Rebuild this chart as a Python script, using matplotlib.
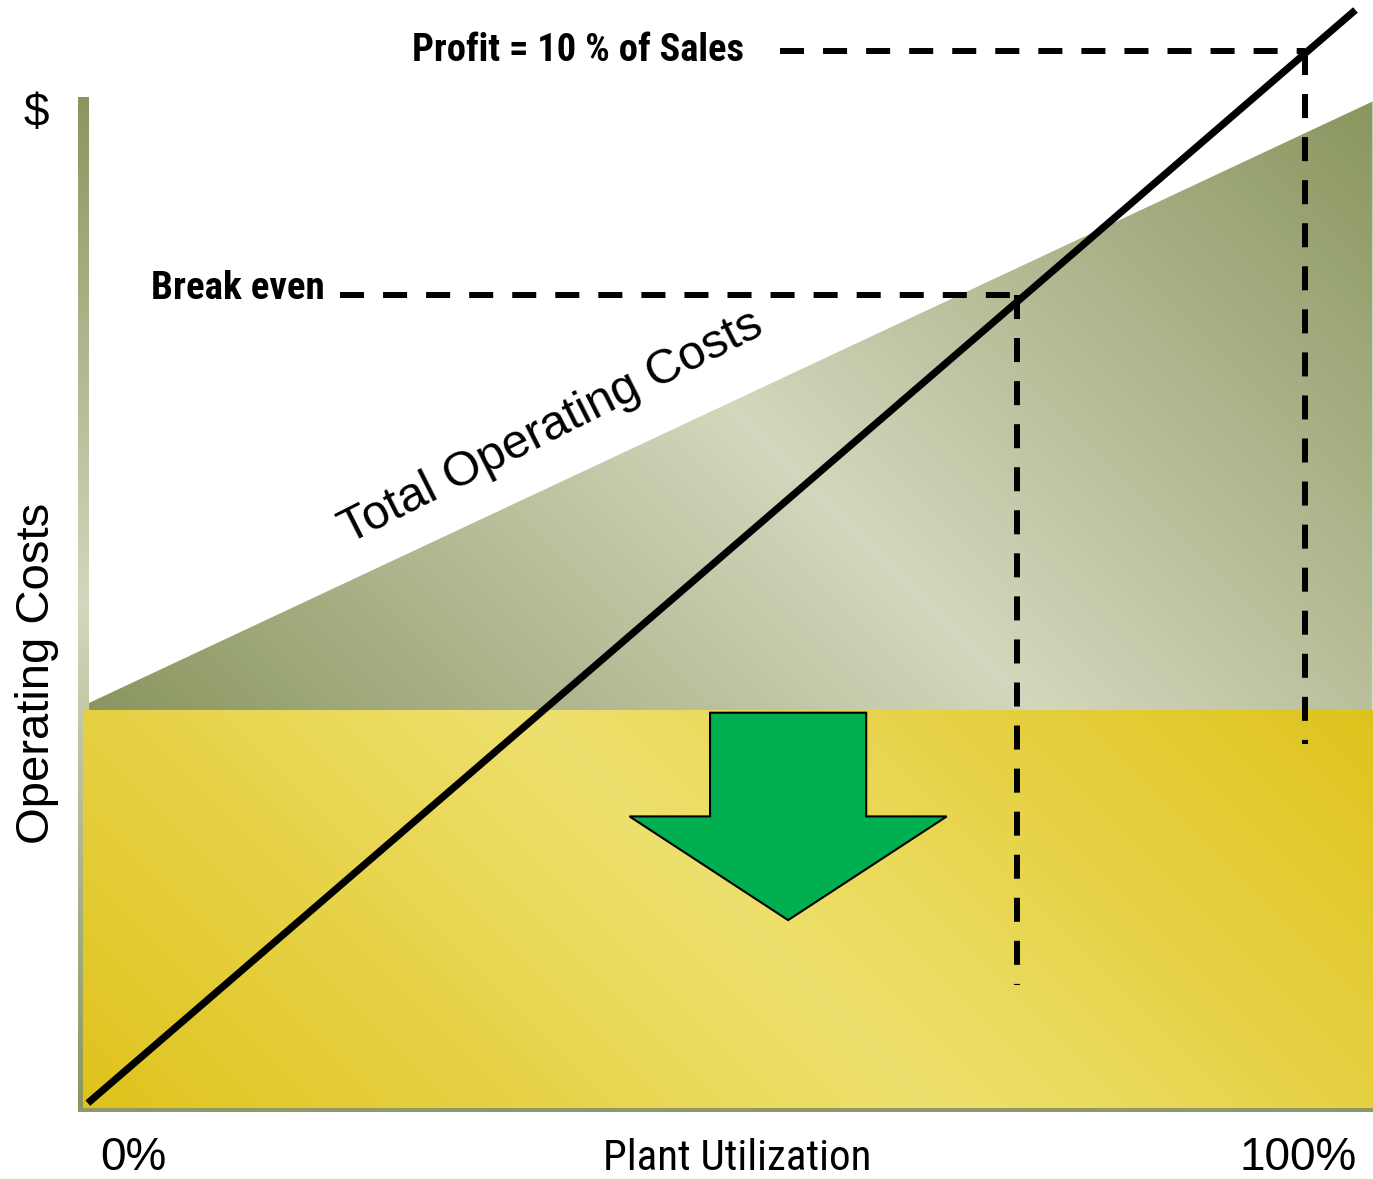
import numpy as np
import matplotlib
matplotlib.use('Agg')
import matplotlib.pyplot as plt
from matplotlib.patches import Polygon
from matplotlib.colors import to_rgb
from matplotlib import font_manager
from matplotlib.font_manager import FontProperties

# ---------------- data (x: plant utilization %, y: $ cost units) ----------------
fixed_cost = 32.6
total_cost_x = [0.5, 105.7]
total_cost_y = [33.2, 82.5]
sales_x = [0.4, 104.3]
sales_y = [0.4, 90.0]
break_even_x = 76.6
break_even_y = 66.6
break_even_label_x = 21.1
break_even_drop_y = 10.1
profit_x = 100.2
profit_y = 86.6
profit_label_x = 57.1
profit_drop_y = 29.8
x_tick_labels = ['0%', '100%']
x_tick_values = [4.1, 99.6]
arrow_center = 57.8
arrow_levels = [32.4, 23.9, 15.4]       # shaft top, shoulder, tip
arrow_half_widths = [6.4, 13.0]         # shaft, head

# ---------------- fonts ----------------
plt.rcParams['lines.scale_dashes'] = False
REG = 'Liberation Sans'


def _w(v):
    if isinstance(v, str):
        return font_manager.weight_dict.get(v, 400)
    return int(v)


def pick_condensed(bold):
    prefs = ['Liberation Sans Narrow', 'Arial Narrow', 'Roboto Condensed',
             'DejaVu Sans', 'Open Sans Condensed', 'Noto Sans', 'Open Sans',
             'Roboto', 'Lato', 'Inter']
    target = 700 if bold else 400
    best = None
    for f in font_manager.fontManager.ttflist:
        st = str(f.stretch)
        narrowish = ('Narrow' in f.name or 'Condensed' in f.name or
                     st in ('condensed', 'semi-condensed', 'extra-condensed',
                            'ultra-condensed'))
        if not narrowish or f.style != 'normal':
            continue
        try:
            rank = prefs.index(f.name)
        except ValueError:
            rank = len(prefs)
        key = (rank, abs(_w(f.weight) - target))
        if best is None or key < best[0]:
            best = (key, f.fname)
    if best is None:
        return None
    return best[1]


fn_reg = pick_condensed(False)
fn_bold = pick_condensed(True)


def narrow_props(bold):
    fn = fn_bold if bold else fn_reg
    if fn:
        return FontProperties(fname=fn)
    return FontProperties(family=REG, weight='bold' if bold else 'normal')


OLIVE_D = '#8a965f'
OLIVE_L = '#d3d7bd'
YEL_D = '#dfc31c'
YEL_L = '#eee06e'

fig = plt.figure(figsize=(13.73, 11.79), dpi=100)
ax = fig.add_axes([0, 0, 1, 1])
ax.set_axis_off()
XMIN, XMAX = -6.80, 105.74
YMIN, YMAX = -5.82, 90.82


def grad_patch(verts, c_end, c_mid, mode, zorder):
    verts = np.asarray(verts, dtype=float)
    x0, x1 = verts[:, 0].min(), verts[:, 0].max()
    y0, y1 = verts[:, 1].min(), verts[:, 1].max()
    n = 400
    gx = np.linspace(0, x1 - x0, n)
    gy = np.linspace(0, y1 - y0, n)
    X, Y = np.meshgrid(gx, gy)
    if mode == 'diag':       # 45-degree isolines (x and y units share the same pixel scale)
        t = (X + Y) / ((x1 - x0) + (y1 - y0))
    else:
        t = Y / (y1 - y0)
    s = 1 - np.abs(2 * t - 1)
    img = (1 - s)[..., None] * np.array(to_rgb(c_end)) + s[..., None] * np.array(to_rgb(c_mid))
    im = ax.imshow(img, extent=(x0, x1, y0, y1), origin='lower', aspect='auto',
                   interpolation='bilinear', zorder=zorder)
    poly = Polygon(verts, closed=True, facecolor='none', edgecolor='none',
                   transform=ax.transData)
    ax.add_patch(poly)
    im.set_clip_path(poly)


# left axis bar (gradient)
grad_patch([(-0.41, -0.16), (0.49, -0.16), (0.49, 82.9), (-0.41, 82.9)],
           OLIVE_D, OLIVE_L, 'vert', 1)
# bottom axis
ax.plot([-0.41, XMAX], [-0.16, -0.16], color='#8e9868', lw=2.9,
        solid_capstyle='butt', zorder=1.5)

# variable cost wedge (olive gradient)
grad_patch([(total_cost_x[0], total_cost_y[0]), (total_cost_x[1], total_cost_y[1]),
            (total_cost_x[1], fixed_cost), (total_cost_x[0], fixed_cost)],
           OLIVE_D, OLIVE_L, 'diag', 2)
# fixed cost block (yellow gradient)
grad_patch([(0.0, 0.0), (XMAX, 0.0), (XMAX, fixed_cost), (0.0, fixed_cost)],
           YEL_D, YEL_L, 'diag', 2)

# green arrow
ac = arrow_center
sh, hh = arrow_half_widths
top, shoulder, tip = arrow_levels
arrow = Polygon([(ac - sh, top), (ac + sh, top), (ac + sh, shoulder), (ac + hh, shoulder),
                 (ac, tip), (ac - hh, shoulder), (ac - sh, shoulder)],
                closed=True, facecolor='#00b050', edgecolor='black', lw=1.5, zorder=4)
ax.add_patch(arrow)

# dashed reference lines
dash = (0, (17.3, 13.7))
for xs, ys in [([break_even_label_x, break_even_x], [break_even_y, break_even_y]),
               ([break_even_x, break_even_x], [break_even_y, break_even_drop_y]),
               ([profit_label_x, profit_x], [profit_y, profit_y]),
               ([profit_x, profit_x], [profit_y, profit_drop_y])]:
    ax.plot(xs, ys, color='black', lw=4.3, linestyle=dash, dash_capstyle='butt', zorder=5)

# sales line
ax.plot(sales_x, sales_y, color='black', lw=5.2, solid_capstyle='butt', zorder=6)

# texts
ax.text(-3.85, 81.5, '$', fontsize=33, family=REG, ha='center', va='center', zorder=7)
ax.text(-3.77, 35.6, 'Operating Costs', fontsize=34, family=REG, rotation=90,
        ha='center', va='center', zorder=7)
for lab, xv in zip(x_tick_labels, x_tick_values):
    ax.text(xv, -5.1, lab, fontsize=33, family=REG, ha='center', va='baseline', zorder=7)
ax.text(38.9, 54.9, 'Total Operating Costs', fontsize=35, family=REG,
        rotation=26.8, rotation_mode='anchor', ha='center', va='baseline', zorder=7)

fitted = []
fp = narrow_props(False); fp.set_size(34)
fitted.append((ax.text(53.6, -5.1, 'Plant Utilization', fontproperties=fp,
                       ha='center', va='baseline', zorder=7), 269))
fp = narrow_props(True); fp.set_size(27)
fitted.append((ax.text(12.7, 66.3, 'Break even', fontproperties=fp,
                       ha='center', va='baseline', zorder=7), 174))
fp = narrow_props(True); fp.set_size(29)
fitted.append((ax.text(40.6, 85.8, 'Profit = 10 % of Sales', fontproperties=fp,
                       ha='center', va='baseline', zorder=7), 331))

ax.set_xlim(XMIN, XMAX)
ax.set_ylim(YMIN, YMAX)

renderer = fig.canvas.get_renderer()
for t, target in fitted:
    w = t.get_window_extent(renderer).width
    t.set_fontsize(t.get_fontsize() * target / w)

fig.savefig('out.png', dpi=100)
